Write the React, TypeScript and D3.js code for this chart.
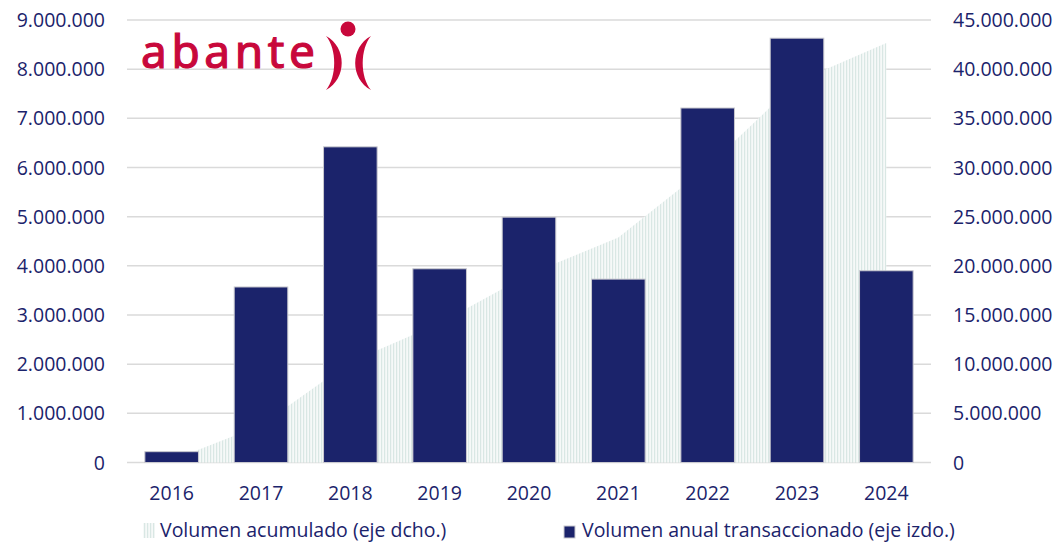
import React from "react";
import * as d3 from "d3";

const years = ["2016", "2017", "2018", "2019", "2020", "2021", "2022", "2023", "2024"];
const annualVolume = [220000, 3570000, 6420000, 3940000, 4990000, 3730000, 7210000, 8630000, 3900000];
const accumulatedVolume = [220000, 3790000, 10210000, 14150000, 19140000, 22870000, 30080000, 38710000, 42650000];
const leftTicks = [0, 1000000, 2000000, 3000000, 4000000, 5000000, 6000000, 7000000, 8000000, 9000000];
const rightTicks = [0, 5000000, 10000000, 15000000, 20000000, 25000000, 30000000, 35000000, 40000000, 45000000];
const legendLabels = ["Volumen acumulado (eje dcho.)", "Volumen anual transaccionado (eje izdo.)"];

const W = 1059;
const H = 544;
const NAVY = "#1b236b";
const RED = "#c8083b";
const FONT = "'Open Sans', sans-serif";

const loc = d3.formatLocale({ decimal: ",", thousands: ".", grouping: [3], currency: ["", "€"] });
const fmt = loc.format(",d");

export default function App() {
  const x = d3.scaleBand<string>().domain(years).range([127, 931]).paddingInner(0.4).paddingOuter(0.2);
  const yL = d3.scaleLinear().domain([0, 9000000]).range([462.5, 20]);
  const yR = d3.scaleLinear().domain([0, 45000000]).range([462.5, 20]);
  const cx = (y: string) => (x(y) as number) + x.bandwidth() / 2;

  const area = d3
    .area<number>()
    .x((_, i) => cx(years[i]))
    .y0(yR(0))
    .y1((d) => yR(d));

  return (
    <svg
      width={W}
      height={H}
      style={{ position: "absolute", left: 0, top: 0, background: "#fff" }}
      fontFamily={FONT}
    >
      <defs>
        <pattern id="stripes" width={3} height={6} patternUnits="userSpaceOnUse">
          <rect x={0} y={0} width={3} height={6} fill="#f6f9f8" />
          <rect x={0} y={0} width={1.2} height={6} fill="#d9e7e4" />
        </pattern>
      </defs>

      {/* gridlines */}
      {leftTicks.map((t) => (
        <line key={t} x1={127} x2={931} y1={yL(t)} y2={yL(t)} stroke="#dadada" strokeWidth={1.5} />
      ))}

      {/* accumulated area */}
      <path d={area(accumulatedVolume) || ""} fill="url(#stripes)" />

      {/* bars */}
      {annualVolume.map((v, i) => (
        <rect
          key={years[i]}
          x={x(years[i])}
          y={yL(v)}
          width={x.bandwidth()}
          height={yL(0) - yL(v)}
          fill={NAVY}
          stroke="#c9c9cf"
          strokeWidth={1}
        />
      ))}

      {/* left axis */}
      {leftTicks.map((t) => (
        <text key={"l" + t} x={105} y={yL(t)} dy="0.36em" textAnchor="end" fontSize={19.5} fill={NAVY}>
          {fmt(t)}
        </text>
      ))}

      {/* right axis */}
      {rightTicks.map((t) => (
        <text key={"r" + t} x={953} y={yR(t)} dy="0.36em" textAnchor="start" fontSize={19.5} fill={NAVY}>
          {fmt(t)}
        </text>
      ))}

      {/* x axis */}
      {years.map((yv) => (
        <text key={yv} x={cx(yv)} y={500} textAnchor="middle" fontSize={19.5} fill={NAVY}>
          {yv}
        </text>
      ))}

      {/* legend */}
      <rect x={143} y={523} width={12} height={15} fill="url(#stripes)" />
      <text x={160} y={537} fontSize={19.5} fill={NAVY}>
        {legendLabels[0]}
      </text>
      <rect x={564} y={526} width={11} height={12} fill={NAVY} stroke="#c9c9cf" strokeWidth={1} />
      <text x={582} y={537} fontSize={19.5} fill={NAVY}>
        {legendLabels[1]}
      </text>

      {/* logo */}
      <g>
        <text
          x={141}
          y={68}
          fontSize={46}
          fill={RED}
          stroke={RED}
          strokeWidth={1.2}
          textLength={174}
          lengthAdjust="spacing"
          fontFamily="'Noto Sans', sans-serif"
        >
          abante
        </text>
        <circle cx={348} cy={29} r={7.5} fill={RED} />
        <path d="M326,36 C347,47 347,79 326,90 C337,77 337,49 326,36 Z" fill={RED} />
        <path d="M371,36 C350,47 350,79 371,90 C360,77 360,49 371,36 Z" fill={RED} />
      </g>
    </svg>
  );
}
